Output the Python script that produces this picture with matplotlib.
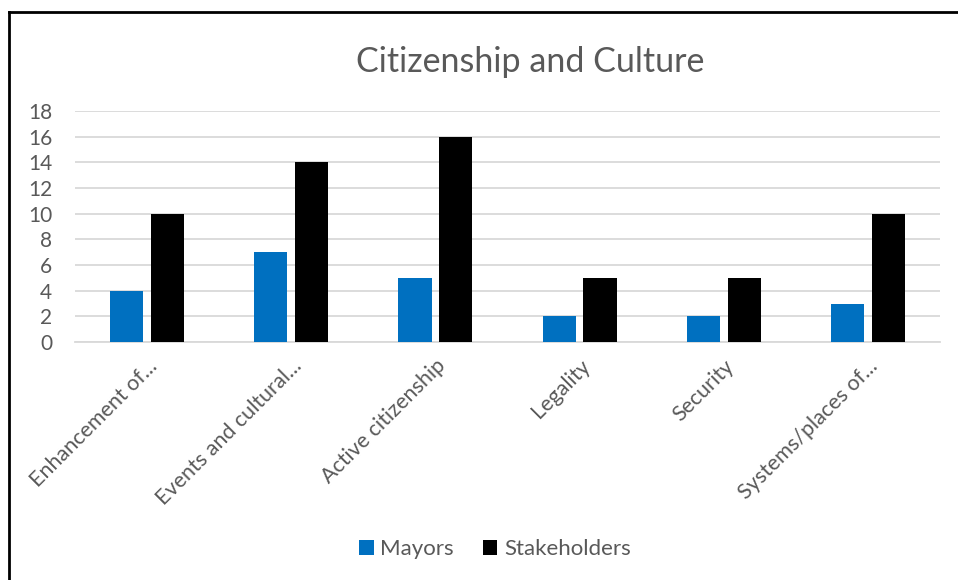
import numpy as np
import matplotlib.pyplot as plt
from matplotlib.lines import Line2D

categories = ["Enhancement of...", "Events and cultural...", "Active citizenship",
              "Legality", "Security", "Systems/places of..."]
mayors = [4, 7, 5, 2, 2, 3]
stakeholders = [10, 14, 16, 5, 5, 10]

plt.rcParams['font.family'] = ['Lato', 'DejaVu Sans']
grey = '#595959'

fig = plt.figure(figsize=(9.58, 5.80), dpi=100)
W, H = 958, 580
ax = fig.add_axes([75 / W, 1 - 342 / H, 865 / W, (342 - 111) / H])

x = np.arange(len(categories))
w = 0.23
ax.bar(x - 0.142, mayors, w, color='#0070C0', label='Mayors', zorder=3)
ax.bar(x + 0.142, stakeholders, w, color='black', label='Stakeholders', zorder=3)

ax.set_xlim(-0.5, len(categories) - 0.5)
ax.set_ylim(0, 18)
ax.set_yticks(range(0, 19, 2))
ax.yaxis.grid(True, color='#d9d9d9', linewidth=1.3, zorder=0)
for s in ['top', 'right', 'left']:
    ax.spines[s].set_visible(False)
ax.spines['bottom'].set_color('#d9d9d9')
ax.spines['bottom'].set_linewidth(1.3)
ax.tick_params(axis='both', length=0, colors=grey, labelsize=15)
ax.tick_params(axis='y', pad=16.5)
ax.set_xticks(x)
ax.set_xticklabels(categories, rotation=45, ha='right', va='top',
                   rotation_mode='anchor', fontsize=15.5, color=grey)
ax.tick_params(axis='x', pad=10)

fig.text(530 / W, 1 - 62 / H, "Citizenship and Culture", ha='center', va='center',
         fontsize=24.5, color=grey)

fig.legend(loc='center', bbox_to_anchor=(495 / W, 1 - 549 / H), ncol=2, frameon=False,
           fontsize=16, labelcolor=grey, handlelength=0.65, handleheight=0.65,
           handletextpad=0.3, columnspacing=1.3)

# outer frame (top and left edges)
fig.add_artist(Line2D([9 / W, 1], [1 - 12 / H, 1 - 12 / H], color='black', linewidth=2))
fig.add_artist(Line2D([9 / W, 9 / W], [0, 1 - 12 / H], color='black', linewidth=2))

fig.savefig('out.png', dpi=100)
